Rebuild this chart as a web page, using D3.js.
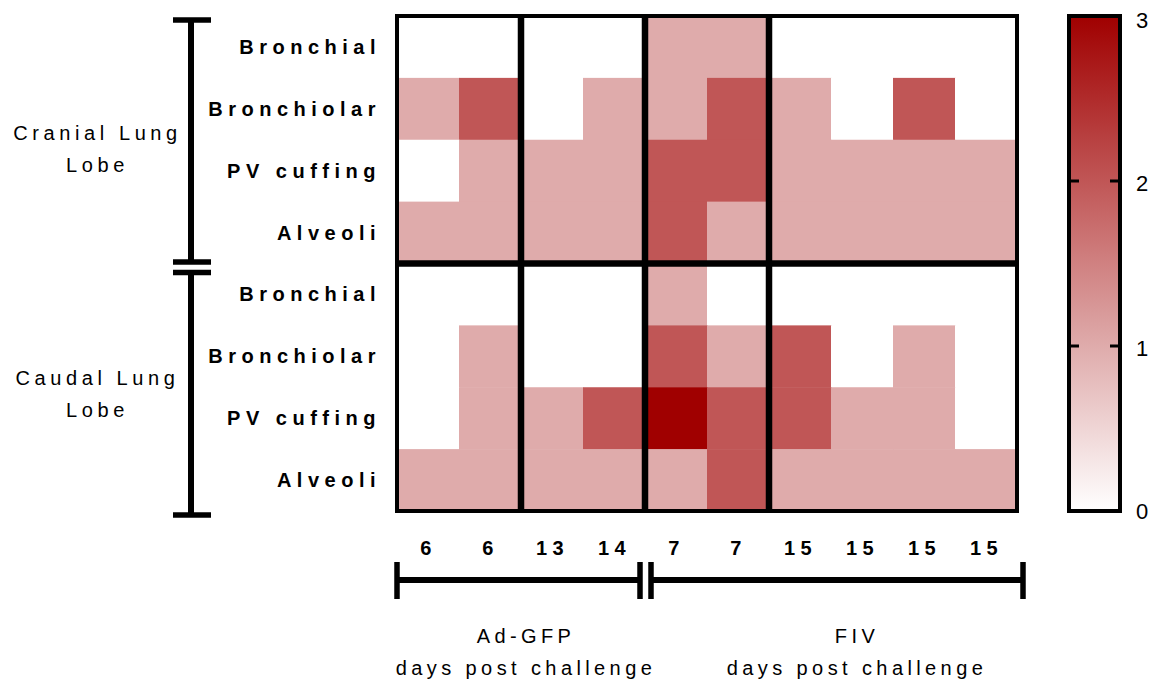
<!DOCTYPE html>
<html>
<head>
<meta charset="utf-8">
<script src="https://cdn.jsdelivr.net/npm/d3@7"></script>
<style>
  body { margin: 0; background: #fff; }
  text { font-family: "Liberation Sans", Arial, sans-serif; }
</style>
</head>
<body>
<div id="chart"></div>
<script>
// data
var rowLabels = ["Bronchial", "Bronchiolar", "PV cuffing", "Alveoli",
                 "Bronchial", "Bronchiolar", "PV cuffing", "Alveoli"];
var colLabels = ["6", "6", "13", "14", "7", "7", "15", "15", "15", "15"];
var scores = [
  [0, 0, 0, 0, 1, 1, 0, 0, 0, 0],
  [1, 2, 0, 1, 1, 2, 1, 0, 2, 0],
  [0, 1, 1, 1, 2, 2, 1, 1, 1, 1],
  [1, 1, 1, 1, 2, 1, 1, 1, 1, 1],
  [0, 0, 0, 0, 1, 0, 0, 0, 0, 0],
  [0, 1, 0, 0, 2, 1, 2, 0, 1, 0],
  [0, 1, 1, 2, 3, 2, 2, 1, 1, 0],
  [1, 1, 1, 1, 1, 2, 1, 1, 1, 1]
];
var lobeLabels = [["Cranial Lung", "Lobe"], ["Caudal Lung", "Lobe"]];
var groupLabels = [["Ad-GFP", "days post challenge"], ["FIV", "days post challenge"]];
var colSplits = [2, 4, 6];   // thick lines before these columns
var rowSplits = [4];
var scaleTicks = [0, 1, 2, 3];

var width = 1161, height = 686;
var plotLeft = 397, plotRight = 1017, plotTop = 16, plotBottom = 511;

var svg = d3.select("#chart").append("svg")
  .attr("width", width)
  .attr("height", height);

var x = d3.scaleBand().domain(d3.range(colLabels.length)).range([plotLeft, plotRight]);
var y = d3.scaleBand().domain(d3.range(rowLabels.length)).range([plotTop, plotBottom]);

var color = d3.scaleLinear()
  .domain([0, 1, 2, 3])
  .range(["#ffffff", "#dfabab", "#c05656", "#a00000"]);

// cells
var cells = [];
scores.forEach(function(row, r) {
  row.forEach(function(v, c) { cells.push({r: r, c: c, v: v}); });
});

svg.selectAll(".cell")
  .data(cells)
  .enter()
  .append("rect")
  .attr("class", "cell")
  .attr("x", function(d) { return x(d.c); })
  .attr("y", function(d) { return y(d.r); })
  .attr("width", x.bandwidth() + 0.5)
  .attr("height", y.bandwidth() + 0.5)
  .attr("fill", function(d) { return color(d.v); });

// separators
svg.selectAll(".vsep")
  .data(colSplits)
  .enter()
  .append("line")
  .attr("x1", function(d) { return x(d); })
  .attr("x2", function(d) { return x(d); })
  .attr("y1", plotTop)
  .attr("y2", plotBottom)
  .attr("stroke", "#000")
  .attr("stroke-width", 6.5);

svg.selectAll(".hsep")
  .data(rowSplits)
  .enter()
  .append("line")
  .attr("x1", plotLeft)
  .attr("x2", plotRight)
  .attr("y1", function(d) { return y(d); })
  .attr("y2", function(d) { return y(d); })
  .attr("stroke", "#000")
  .attr("stroke-width", 6.5);

svg.append("rect")
  .attr("x", plotLeft)
  .attr("y", plotTop)
  .attr("width", plotRight - plotLeft)
  .attr("height", plotBottom - plotTop)
  .attr("fill", "none")
  .attr("stroke", "#000")
  .attr("stroke-width", 4);

// row labels
svg.selectAll(".rowlab")
  .data(rowLabels)
  .enter()
  .append("text")
  .attr("x", 381)
  .attr("y", function(d, i) { return y(i) + y.bandwidth() / 2 + 7; })
  .attr("text-anchor", "end")
  .attr("font-size", 20)
  .attr("font-weight", "bold")
  .attr("letter-spacing", 5.5)
  .text(function(d) { return d; });

// column labels
svg.selectAll(".collab")
  .data(colLabels)
  .enter()
  .append("text")
  .attr("x", function(d, i) { return x(i) + x.bandwidth() / 2 + 0.5; })
  .attr("y", 555)
  .attr("text-anchor", "middle")
  .attr("font-size", 20)
  .attr("font-weight", "bold")
  .attr("letter-spacing", 5.5)
  .text(function(d) { return d; });

// left brackets
var lobeSpans = [[y(0) + 4, y(4) - 1.5], [y(4) + 9, plotBottom + 4]];
var lobeOffsets = [0, -2];
lobeSpans.forEach(function(s, i) {
  var g = svg.append("g");
  g.append("line").attr("x1", 191).attr("x2", 191).attr("y1", s[0]).attr("y2", s[1])
    .attr("stroke", "#000").attr("stroke-width", 6);
  [s[0], s[1]].forEach(function(yy) {
    g.append("line").attr("x1", 173).attr("x2", 211).attr("y1", yy).attr("y2", yy)
      .attr("stroke", "#000").attr("stroke-width", 5.5);
  });
  var mid = y(i * 4) + y.bandwidth() * 2;
  lobeLabels[i].forEach(function(t, j) {
    g.append("text")
      .attr("x", 97.5)
      .attr("y", mid + lobeOffsets[i] + j * 32)
      .attr("text-anchor", "middle")
      .attr("font-size", 20)
      .attr("letter-spacing", 4.6)
      .text(t);
  });
});

// bottom brackets
var groupSpans = [[plotLeft, x(4) - 5], [x(4) + 6, 1023]];
var groupCenters = [526, 857];
groupSpans.forEach(function(s, i) {
  var g = svg.append("g");
  g.append("line").attr("x1", s[0]).attr("x2", s[1]).attr("y1", 580).attr("y2", 580)
    .attr("stroke", "#000").attr("stroke-width", 6);
  [s[0], s[1]].forEach(function(xx) {
    g.append("line").attr("x1", xx).attr("x2", xx).attr("y1", 562).attr("y2", 599)
      .attr("stroke", "#000").attr("stroke-width", 5.5);
  });
  groupLabels[i].forEach(function(t, j) {
    g.append("text")
      .attr("x", groupCenters[i])
      .attr("y", 643 + j * 32)
      .attr("text-anchor", "middle")
      .attr("font-size", 20)
      .attr("letter-spacing", 4.4)
      .text(t);
  });
});

// colour bar
var cbLeft = 1069, cbRight = 1120;
var cbScale = d3.scaleLinear().domain([0, 3]).range([plotBottom, plotTop]);

var grad = svg.append("defs").append("linearGradient")
  .attr("id", "cbgrad")
  .attr("x1", 0).attr("y1", 1).attr("x2", 0).attr("y2", 0);
grad.selectAll("stop")
  .data(d3.range(0, 3.01, 0.25))
  .enter()
  .append("stop")
  .attr("offset", function(d) { return d / 3; })
  .attr("stop-color", function(d) { return color(d); });

svg.append("rect")
  .attr("x", cbLeft)
  .attr("y", plotTop)
  .attr("width", cbRight - cbLeft)
  .attr("height", plotBottom - plotTop)
  .attr("fill", "url(#cbgrad)")
  .attr("stroke", "#000")
  .attr("stroke-width", 4);

var cbAxis = svg.append("g");
scaleTicks.forEach(function(t) {
  if (t > 0 && t < 3) {
    cbAxis.append("line").attr("x1", cbLeft).attr("x2", cbLeft + 10)
      .attr("y1", cbScale(t)).attr("y2", cbScale(t))
      .attr("stroke", "#000").attr("stroke-width", 3);
    cbAxis.append("line").attr("x1", cbRight - 10).attr("x2", cbRight)
      .attr("y1", cbScale(t)).attr("y2", cbScale(t))
      .attr("stroke", "#000").attr("stroke-width", 3);
  }
  cbAxis.append("text")
    .attr("x", 1136)
    .attr("y", cbScale(t) + (t === 3 ? 12 : (t === 0 ? 8 : 10)))
    .attr("font-size", 22)
    .text(t);
});
</script>
</body>
</html>
